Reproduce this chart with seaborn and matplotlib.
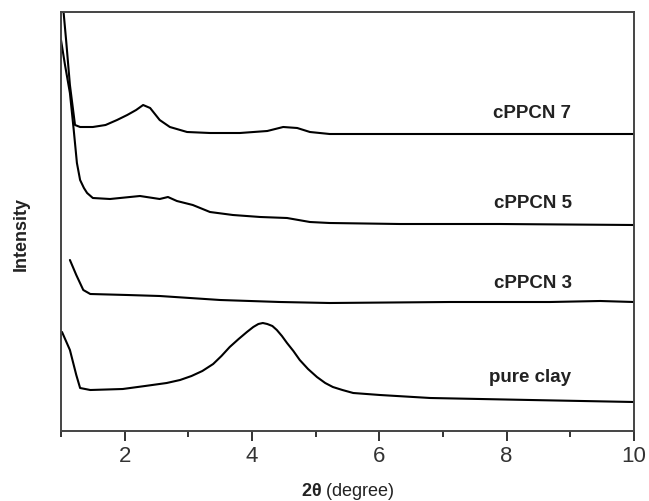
import numpy as np
import pandas as pd
import matplotlib
matplotlib.use("Agg")
import matplotlib.pyplot as plt
import seaborn as sns

sns.set_style("ticks")
plt.rcParams['font.family'] = ['Liberation Sans', 'DejaVu Sans']
plt.rcParams['mathtext.fontset'] = 'custom'
plt.rcParams['mathtext.rm'] = 'Liberation Sans'
plt.rcParams['mathtext.bf'] = 'Liberation Sans:bold'

# ---- data ----
x_c7 = [1.016, 1.08, 1.14, 1.22, 1.30, 1.50, 1.70, 1.88, 2.04, 2.18, 2.29, 2.40, 2.55, 2.71,
        2.98, 3.34, 3.81, 4.24, 4.49, 4.71, 4.91, 5.22, 6.32, 7.89, 10.0]
y_c7 = [436, 391, 346, 306, 304, 304, 306, 311, 316, 321, 326, 323, 311, 304,
        299, 298, 298, 300, 304, 303, 299, 297, 297, 297, 297]

x_c5 = [1.0, 1.063, 1.14, 1.20, 1.25, 1.30, 1.36, 1.41, 1.50, 1.77, 2.24, 2.55, 2.68, 2.82,
        3.07, 3.34, 3.70, 4.13, 4.55, 4.91, 5.22, 6.32, 7.89, 10.0]
y_c5 = [391, 366, 338, 301, 268, 251, 243, 238, 233, 232, 235, 232, 234, 230,
        226, 219, 216, 214, 213, 209, 208, 207, 207, 206]

x_c3 = [1.14, 1.24, 1.35, 1.46, 2.04, 2.55, 3.50, 4.44, 5.22, 7.11, 8.68, 9.47, 10.0]
y_c3 = [171, 156, 141, 137, 136, 135, 131, 129, 128, 129, 129, 130, 129]

x_clay = [1.016, 1.14, 1.24, 1.30, 1.46, 1.97, 2.32, 2.66, 2.87, 3.05, 3.22, 3.39, 3.52, 3.65,
          3.79, 3.92, 4.02, 4.10, 4.17, 4.24, 4.32, 4.39, 4.47, 4.55, 4.65, 4.75, 4.88,
          5.02, 5.15, 5.27, 5.42, 5.59, 6.01, 6.80, 8.37, 10.0]
y_clay = [99, 81, 56, 43, 41, 42, 45, 48, 51, 55, 60, 67, 75, 84,
          92, 99, 104, 107, 108, 107, 105, 101, 95, 88, 80, 71, 62,
          54, 48, 44, 41, 38, 36, 33, 31, 29]

series_names = ["cPPCN 7", "cPPCN 5", "cPPCN 3", "pure clay"]
label_x = [8.40, 8.41, 8.41, 8.37]
label_y = [318, 227, 147, 54]

xticks = [2, 4, 6, 8, 10]
xlabels = ["2", "4", "6", "8", "10"]

frames = []
for name, xs, ys in zip(series_names, [x_c7, x_c5, x_c3, x_clay], [y_c7, y_c5, y_c3, y_clay]):
    frames.append(pd.DataFrame({"theta": xs, "intensity": ys, "sample": name}))
df = pd.concat(frames, ignore_index=True)

fig = plt.figure(figsize=(6.49, 5.01), dpi=100)
ax = fig.add_axes([61/649, 1 - 431/501, (634 - 61)/649, (431 - 12)/501])

sns.lineplot(data=df, x="theta", y="intensity", units="sample", estimator=None,
             color="black", linewidth=1.5, sort=False, ax=ax)

for name, lx, ly in zip(series_names, label_x, label_y):
    ax.text(lx, ly, name, ha="center", va="center", fontsize=13.5,
            fontweight="bold", color="#222222")

ax.set_xlim(1, 10)
ax.set_ylim(0, 419)
ax.set_xticks(xticks)
ax.set_xticklabels(xlabels)
ax.set_xticks([1, 3, 5, 7, 9], minor=True)
ax.set_yticks([])
ax.tick_params(axis="x", which="major", direction="out", length=7, width=1.4,
               labelsize=16, colors="#333333", pad=4)
ax.tick_params(axis="x", which="minor", direction="out", length=4, width=1.4, colors="#333333")
for sp in ax.spines.values():
    sp.set_visible(True)
    sp.set_color("#444444")
    sp.set_linewidth(1.4)

ax.set_xlabel(r"$\mathbf{2\theta}$ (degree)", fontsize=13, color="#222222", labelpad=10)
ax.set_ylabel("Intensity", fontsize=13, fontweight="bold", color="#222222")
ax.yaxis.set_label_coords(-0.055, 0.47)

fig.savefig("out.png", dpi=100)
